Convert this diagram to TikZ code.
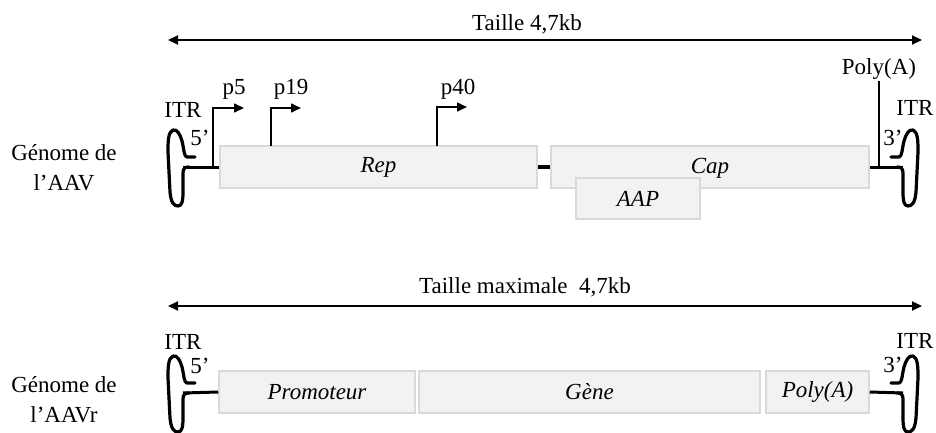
\documentclass[tikz,border=0pt]{standalone}
\usepackage{fontspec}
\setmainfont{Liberation Serif}
\usetikzlibrary{arrows.meta}
\tikzset{
  itrloop/.pic={
    \draw[itr] (12,-10) -- (4,-10) .. controls (1,-10) and (1,-18) .. (-1,-26)
      .. controls (-3,-33) and (-6,-38) .. (-10,-37)
      .. controls (-15,-35) and (-15,-25) .. (-15,-15)
      -- (-13,25) .. controls (-12,36) and (-9,39) .. (-5,39)
      .. controls (-1,39) and (0,34) .. (0,25)
      -- (0,12) .. controls (0,4) and (-1,0) .. (6,0);
  }
}
\begin{document}
\begin{tikzpicture}[x=1pt,y=-1pt,
  every node/.style={font=\fontsize{23}{28}\selectfont, inner sep=1pt},
  box/.style={draw=gray!30, fill=gray!10, line width=1.5pt, minimum height=42pt, inner sep=0pt, font=\fontsize{23}{28}\selectfont\itshape},
  itr/.style={line width=3.2pt, line join=round, line cap=round},
  link/.style={line width=3pt},
  thicklink/.style={line width=4.5pt},
  sizearrow/.style={line width=2pt, {Triangle[length=10pt,width=9pt]}-{Triangle[length=10pt,width=9pt]}},
  prom/.style={line width=1.6pt, -{Triangle[length=10pt,width=9pt]}},
  lbl/.style={align=center, font=\fontsize{23}{30}\selectfont}
]
\useasboundingbox (0,0) rectangle (936,433);

% ---------- top: AAV genome ----------
\node (t1) at (527,24) {Taille 4,7kb};
\coordinate (a1l) at (168,40);
\coordinate (a1r) at (922,40);
\draw[sizearrow] (a1l) -- (a1r);

\node[lbl] (g1) at (64,168) {Génome de\\l’AAV};

\node[box, minimum width=317pt] (rep) at (378.5,167) {Rep};
\node[box, minimum width=318pt] (cap) at (710,167) {};
\node[font=\fontsize{23}{28}\selectfont\itshape] (captxt) at (710,168) {Cap};
\node[box, minimum width=124pt, minimum height=41pt] (aap) at (638,198.5) {AAP};

\coordinate (jL1) at (183,167);
\coordinate (jR1) at (903,167);
\pic at (jL1) {itrloop};
\pic[xscale=-1] at (jR1) {itrloop};
\draw[link] (jL1) -- (rep.west);
\draw[thicklink] (rep.east) -- (cap.west);
\draw[link] (cap.east) -- (jR1);

\node (itrL1) at (183,110) {ITR};
\node (itrR1) at (915,108) {ITR};
\node (fiveL1) at (200,138) {5’};
\node (threeR1) at (893,138) {3’};

% promoters
\coordinate (p5b) at (213,166);
\coordinate (p5e) at (244,108);
\coordinate (p19b) at (271,146);
\coordinate (p19e) at (301,108);
\coordinate (p40b) at (437,146);
\coordinate (p40e) at (467,107);
\draw[prom] (p5b) |- (p5e);
\draw[prom] (p19b) |- (p19e);
\draw[prom] (p40b) |- (p40e);
\node (p5) at (234,89) {p5};
\node (p19) at (291,89) {p19};
\node (p40) at (458,89) {p40};

% poly(A)
\node[anchor=south] (polyA1) at (879,81) {Poly(A)};
\coordinate (pa) at (879,167);
\draw[line width=1.6pt] (polyA1.south) -- (pa);

% ---------- bottom: AAVr genome ----------
\node (t2) at (525,287) {Taille maximale\ \ 4,7kb};
\coordinate (a2l) at (168,306);
\coordinate (a2r) at (922,306);
\draw[sizearrow] (a2l) -- (a2r);

\node[lbl] (g2) at (64,400) {Génome de\\l’AAVr};

\node[box, minimum width=196pt] (prm) at (317,392) {Promoteur};
\node[box, minimum width=341pt] (gene) at (589.5,392) {Gène};
\node[box, minimum width=103pt] (pola) at (817.5,392) {Poly(A)};

\coordinate (jL2) at (183,393);
\coordinate (jR2) at (903,393);
\pic at (jL2) {itrloop};
\pic[xscale=-1] at (jR2) {itrloop};
\draw[link] (jL2) -- (prm.west);
\draw[link] (pola.east) -- (jR2);

\node (itrL2) at (183,342) {ITR};
\node (itrR2) at (915,341) {ITR};
\node (fiveL2) at (200,366) {5’};
\node (threeR2) at (893,365) {3’};
\end{tikzpicture}
\end{document}
